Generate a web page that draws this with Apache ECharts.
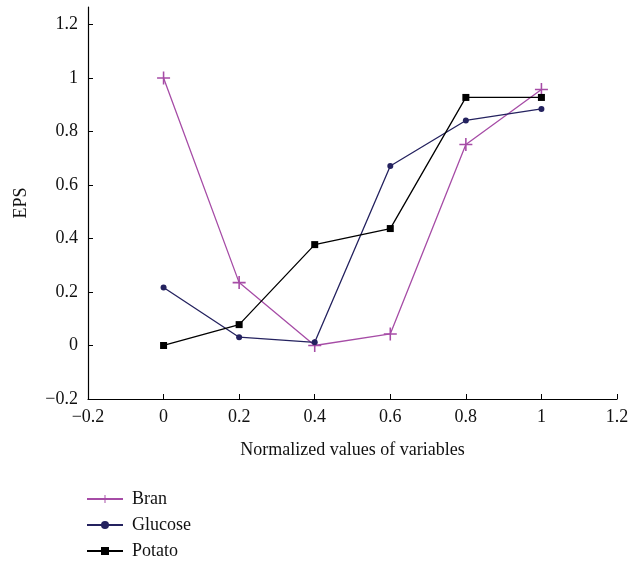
<!DOCTYPE html>
<html>
<head>
<meta charset="utf-8">
<script src="https://cdn.jsdelivr.net/npm/echarts@6/dist/echarts.min.js"></script>
<style>
  html, body { margin: 0; padding: 0; background: #fff; }
  #chart { width: 643px; height: 561px; }
</style>
</head>
<body>
<div id="chart"></div>
<script>
// values
const xValues = [0, 0.2, 0.4, 0.6, 0.8, 1];
const bran = [1.0, 0.235, 0.0, 0.043, 0.751, 0.957];
const glucose = [0.217, 0.031, 0.012, 0.671, 0.841, 0.884];
const potato = [0.0, 0.078, 0.377, 0.437, 0.927, 0.927];
const xTicks = [-0.2, 0, 0.2, 0.4, 0.6, 0.8, 1, 1.2];
const yTicks = [-0.2, 0, 0.2, 0.4, 0.6, 0.8, 1, 1.2];

const font = 'Liberation Serif';
const plusPath = 'path://M4.4,0H5.6V4.4H10V5.6H5.6V10H4.4V5.6H0V4.4H4.4Z';
const fmt = (v) => String(+v.toFixed(2)).replace('-', '\u2212');
const pairs = (ys) => xValues.map((x, i) => [x, ys[i]]);

const chart = echarts.init(document.getElementById('chart'));

chart.setOption({
    animation: false,
    grid: { left: 88, right: 26, top: 7, bottom: 162 },
    xAxis: {
        type: 'value',
        min: -0.2,
        max: 1.2,
        name: 'Normalized values of variables',
        nameLocation: 'middle',
        nameGap: 42,
        nameTextStyle: { fontFamily: font, fontSize: 18, color: '#111' },
        splitLine: { show: false },
        axisLine: { onZero: false, lineStyle: { color: '#000', width: 1.2 } },
        axisTick: { inside: true, length: 5, customValues: xTicks, lineStyle: { color: '#000' } },
        axisLabel: { customValues: xTicks, formatter: fmt, margin: 9, fontFamily: font, fontSize: 18, color: '#111' }
    },
    yAxis: {
        type: 'value',
        min: -0.2,
        max: 1.265,
        name: 'EPS',
        nameLocation: 'middle',
        nameGap: 58,
        nameTextStyle: { fontFamily: font, fontSize: 18, color: '#111' },
        splitLine: { show: false },
        axisLine: { show: true, onZero: false, lineStyle: { color: '#000', width: 1.2 } },
        axisTick: { show: true, inside: true, length: 5, customValues: yTicks, lineStyle: { color: '#000' } },
        axisLabel: { customValues: yTicks, formatter: fmt, margin: 10, fontFamily: font, fontSize: 18, color: '#111' }
    },
    legend: {
        orient: 'vertical',
        left: 86,
        top: 490,
        padding: 0,
        itemWidth: 36,
        itemHeight: 10,
        itemGap: 8,
        textStyle: { fontFamily: font, fontSize: 18, color: '#111', padding: [0, 0, 0, 4] },
        data: ['Bran', 'Glucose', 'Potato']
    },
    series: [
        {
            name: 'Bran',
            type: 'line',
            data: pairs(bran),
            symbol: plusPath,
            symbolSize: 13,
            color: '#a64ca6',
            lineStyle: { width: 1.3, color: '#a64ca6' },
            itemStyle: { color: '#a64ca6' }
        },
        {
            name: 'Glucose',
            type: 'line',
            data: pairs(glucose),
            symbol: 'circle',
            symbolSize: 6,
            color: '#24225f',
            lineStyle: { width: 1.3, color: '#24225f' },
            itemStyle: { color: '#24225f' }
        },
        {
            name: 'Potato',
            type: 'line',
            data: pairs(potato),
            symbol: 'rect',
            symbolSize: 7,
            color: '#000',
            lineStyle: { width: 1.3, color: '#000' },
            itemStyle: { color: '#000' }
        }
    ]
});
</script>
</body>
</html>
